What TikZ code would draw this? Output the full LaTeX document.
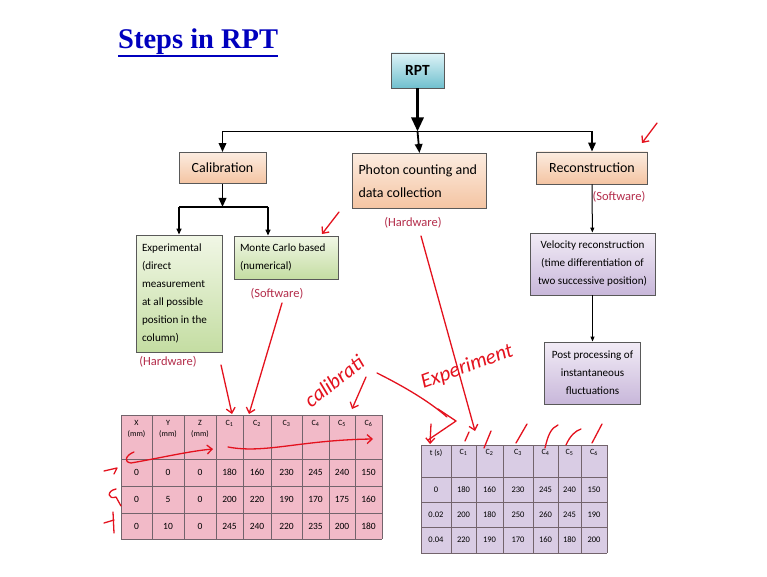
\documentclass[tikz,border=0pt]{standalone}
\usepackage{fontspec}
\setmainfont{Carlito}
\newfontfamily\titlefont{Liberation Serif}
\usetikzlibrary{arrows.meta}

% 颜色
\definecolor{titleblue}{RGB}{0,0,190}
\definecolor{labelred}{RGB}{180,45,75}
\definecolor{handred}{RGB}{228,18,30}
\definecolor{tealtop}{RGB}{222,243,247}
\definecolor{tealbot}{RGB}{112,192,206}
\definecolor{peachtop}{RGB}{252,236,224}
\definecolor{peachbot}{RGB}{244,196,162}
\definecolor{greentop}{RGB}{241,247,230}
\definecolor{greenbot}{RGB}{196,221,162}
\definecolor{lilactop}{RGB}{242,236,246}
\definecolor{lilacbot}{RGB}{200,183,218}
\definecolor{pinkcell}{RGB}{242,186,200}
\definecolor{lilaccell}{RGB}{217,204,228}
\definecolor{gridgrey}{RGB}{115,100,108}

\tikzset{
  box/.style={draw=black!65, line width=0.9pt, inner sep=6pt},
  tealbox/.style={box, top color=tealtop, bottom color=tealbot},
  peachbox/.style={box, top color=peachtop, bottom color=peachbot},
  greenbox/.style={box, top color=greentop, bottom color=greenbot},
  lilacbox/.style={box, top color=lilactop, bottom color=lilacbot},
  bigtext/.style={font=\fontsize{14}{23}\selectfont},
  smalltext/.style={font=\fontsize{11.1}{18}\selectfont},
  bigarrow/.style={line width=3pt, -{Triangle[length=14pt,width=12pt]}},
  busline/.style={line width=1.8pt},
  busarrow/.style={line width=1.8pt, -{Triangle[length=9pt,width=7.5pt]}},
  subarrow/.style={line width=1.4pt, -{Triangle[length=6pt,width=5pt]}},
  thinarrow/.style={line width=1pt, -{Triangle[length=5pt,width=4pt]}},
  hwlabel/.style={text=labelred, font=\fontsize{12.5}{14}\selectfont, inner sep=0},
  gridline/.style={draw=gridgrey, line width=0.8pt},
  lhead/.style={font=\fontsize{8}{11}\selectfont, align=flush center, anchor=north, inner sep=0},
  lcell/.style={font=\fontsize{9.5}{11}\selectfont, inner sep=0},
  rcell/.style={font=\fontsize{8.5}{10}\selectfont, inner sep=0},
  hand/.style={draw=handred, line width=1.3pt, line cap=round, line join=round},
  handarrow/.style={hand, -{Straight Barb[length=5pt,width=9pt]}},
  handtext/.style={text=handred, font=\itshape\fontsize{21}{24}\selectfont, inner sep=0},
}

\begin{document}
\begin{tikzpicture}[x=1pt,y=-1pt]
    \useasboundingbox[fill=white] (0,0) rectangle (767,577);

    % 标题
    \node[anchor=base west, inner sep=0, text=titleblue,
          font=\titlefont\bfseries\fontsize{28.5}{30}\selectfont] (title) at (118,49) {Steps in RPT};
    \draw[titleblue, line width=2pt] ([yshift=-0.5pt]title.south west) -- ([yshift=-0.5pt]title.south east);

    % 流程框
    \node[tealbox, minimum width=53, minimum height=35, font=\bfseries\fontsize{15.5}{18}\selectfont] (rpt) at (417.5,70.5) {RPT};
    \node[peachbox, bigtext, minimum width=87, minimum height=31] (calib) at (222.5,168) {Calibration};
    \node[peachbox, bigtext, text width=122, minimum height=55, align=flush left] (photon) at (419.5,181) {Photon counting and\\data collection};
    \node[peachbox, bigtext, minimum width=111, minimum height=32] (recon) at (592,168) {Reconstruction};
    \node[greenbox, smalltext, text width=74, minimum height=117, align=flush left] (expt) at (179,293.5)
        {Experimental\\(direct\\measurement\\at all possible\\position in the\\column)};
    \node[greenbox, smalltext, text width=92, minimum height=43, align=flush left] (monte) at (286,257.5)
        {Monte Carlo based\\(numerical)};
    \node[lilacbox, smalltext, minimum width=125, minimum height=62, align=flush center] (velo) at (592.5,264)
        {Velocity reconstruction\\(time differentiation of\\two successive position)};
    \node[lilacbox, smalltext, minimum width=96, minimum height=62, align=flush center] (post) at (592.5,373)
        {Post processing of\\instantaneous\\fluctuations};

    % 红色标注
    \node[hwlabel] (hwexpt) at (168,362) {(Hardware)};
    \node[hwlabel] (swmonte) at (277,294) {(Software)};
    \node[hwlabel] (hwphoton) at (413,223) {(Hardware)};
    \node[hwlabel] (swrecon) at (619,197) {(Software)};

    % 连线
    \coordinate (bus) at (417.5,131.5);
    \coordinate (branch) at (222.5,207);
    \draw[bigarrow] (rpt) -- (bus);
    \draw[busline] (calib.north |- bus) -- (recon.north |- bus);
    \draw[busarrow] (calib.north |- bus) -- (calib.north);
    \draw[busarrow] (bus) -- (photon.north);
    \draw[busarrow] (recon.north |- bus) -- (recon.north);
    \draw[busarrow] (calib) -- (branch);
    \coordinate (brL) at (expt.north |- branch);
    \coordinate (brR) at (268,207);
    \draw[line width=1.4pt] (brL) -- (brR);
    \draw[subarrow] (brL) -- (expt.north);
    \draw[subarrow] (brR) -- (brR |- monte.north);
    \draw[thinarrow] (recon) -- (velo);
    \draw[thinarrow] (velo) -- (post);

    % 左表
    \fill[pinkcell] (121,415) rectangle (382,539);
    \foreach \x in {121,152,184,216,243,271,302,329,355,382}
        \draw[gridline] (\x,415) -- (\x,539);
    \foreach \y in {415,459,486,513,539}
        \draw[gridline] (121,\y) -- (382,\y);
    \def\lcols{{136.5,168,200,229.5,257,286.5,315.5,342,368.5}}
    \foreach \h [count=\c] in {X\\(mm),Y\\(mm),Z\\(mm),C\textsubscript{1},C\textsubscript{2},C\textsubscript{3},C\textsubscript{4},C\textsubscript{5},C\textsubscript{6}}
        {\pgfmathsetmacro\xc{\lcols[\c-1]}\node[lhead] (lh\c) at (\xc,420) {\h};}
    \foreach \v [count=\c] in {0,0,0,180,160,230,245,240,150}
        {\pgfmathsetmacro\xc{\lcols[\c-1]}\node[lcell] (la\c) at (\xc,472.5) {\v};}
    \foreach \v [count=\c] in {0,5,0,200,220,190,170,175,160}
        {\pgfmathsetmacro\xc{\lcols[\c-1]}\node[lcell] (lb\c) at (\xc,499.5) {\v};}
    \foreach \v [count=\c] in {0,10,0,245,240,220,235,200,180}
        {\pgfmathsetmacro\xc{\lcols[\c-1]}\node[lcell] (lc\c) at (\xc,526) {\v};}

    % 右表
    \fill[lilaccell] (421,445) rectangle (607,553);
    \foreach \x in {421,451,476,503,533,558,581,607}
        \draw[gridline] (\x,445) -- (\x,553);
    \foreach \y in {445,477,502,527,553}
        \draw[gridline] (421,\y) -- (607,\y);
    \def\rcols{{436,463.5,489.5,518,545.5,569.5,594}}
    \foreach \h [count=\c] in {t (s),C\textsubscript{1},C\textsubscript{2},C\textsubscript{3},C\textsubscript{4},C\textsubscript{5},C\textsubscript{6}}
        {\pgfmathsetmacro\xc{\rcols[\c-1]}\node[lhead] (rh\c) at (\xc,449) {\h};}
    \foreach \v [count=\c] in {0,180,160,230,245,240,150}
        {\pgfmathsetmacro\xc{\rcols[\c-1]}\node[rcell] (ra\c) at (\xc,489.5) {\v};}
    \foreach \v [count=\c] in {0.02,200,180,250,260,245,190}
        {\pgfmathsetmacro\xc{\rcols[\c-1]}\node[rcell] (rb\c) at (\xc,514.5) {\v};}
    \foreach \v [count=\c] in {0.04,220,190,170,160,180,200}
        {\pgfmathsetmacro\xc{\rcols[\c-1]}\node[rcell] (rc\c) at (\xc,540) {\v};}

    % 手写批注
    \coordinate (hwend) at (232,414);
    \coordinate (swend) at (249,414);
    \coordinate (phend) at (475,431);
    \draw[handarrow] (221,365) -- (hwend);
    \draw[handarrow] (282,303) -- (swend);
    \draw[handarrow] (421,236) -- (phend);
    \draw[handarrow] (339,212) -- (322,234);
    \draw[handarrow] (657,123) -- (642,143);
    \node[handtext, rotate=38] (calnote) at (334,381) {calibrati};
    \node[handtext, rotate=20] (expnote) at (467,367) {Experiment};
    \draw[handarrow] (366,377) -- (352,409);
    \draw[hand] (377,373) .. controls (405,387) and (430,402) .. (447,417);
    \draw[hand] (438,409) -- (456,421) -- (428,440);
    \draw[handarrow] (431,424) -- (430,444);
    % 右表表头的勾
    \draw[hand] (465,441) -- (469,432);
    \draw[hand] (484,448) -- (491,431);
    \draw[hand] (516,443) -- (527,424);
    \draw[hand] (545,448) .. controls (548,435) and (551,428) .. (558,425);
    \draw[hand] (566,445) .. controls (570,436) and (575,431) .. (581,429);
    \draw[hand] (592,443) -- (602,424);
    % 左表上的箭头
    \draw[handarrow] (134,452) .. controls (126,455) and (123,462) .. (131,463)
        .. controls (160,458) and (190,451) .. (213,449);
    \draw[handarrow] (228,447) .. controls (265,454) and (300,440) .. (373,439);
    \draw[hand] (104,471) -- (117,468) -- (114,474);
    \draw[hand] (116,489) .. controls (106,491) and (108,500) .. (116,497) -- (121,506);
    \draw[hand] (104,523) -- (114,520);
    \draw[hand] (113,512) -- (114,533);
\end{tikzpicture}
\end{document}
